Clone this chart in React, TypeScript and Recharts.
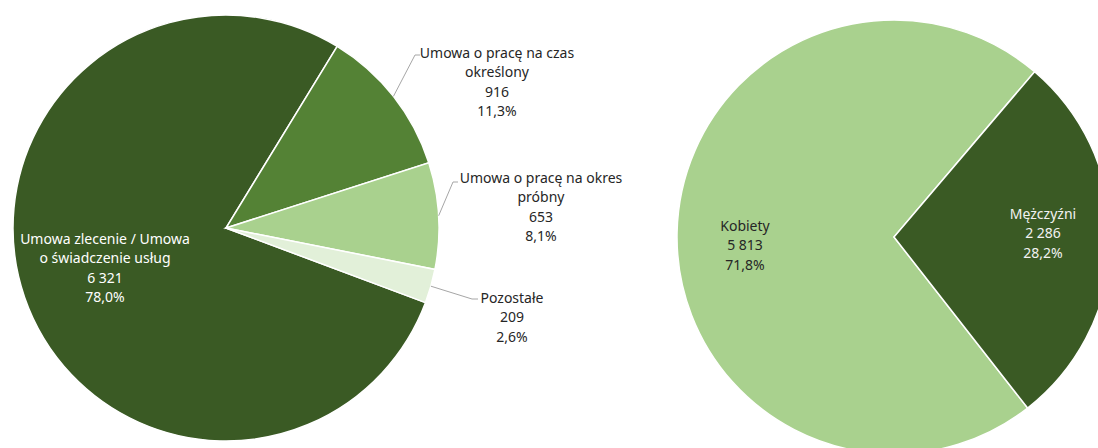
import { PieChart, Pie, Cell } from "recharts";

const CONTRACT_NAMES = [
  "Umowa zlecenie / Umowa\no świadczenie usług",
  "Umowa o pracę na czas\nokreślony",
  "Umowa o pracę na okres\npróbny",
  "Pozostałe",
];
const CONTRACT_VALUES = [6321, 916, 653, 209];
const CONTRACT_COLORS = ["#3a5a24", "#548235", "#a9d18e", "#e2f0d9"];

const GENDER_NAMES = ["Kobiety", "Mężczyźni"];
const GENDER_VALUES = [5813, 2286];
const GENDER_COLORS = ["#a9d18e", "#3a5a24"];

const FONT = "'Noto Sans', sans-serif";
const LINE_H = 19.5;

// label placement relative to pie centre (px); line = leader elbow + end
type LabelPos = { tx: number; ty: number; color: string; line?: [number, number, number, number] };

const CONTRACT_LABELS: LabelPos[] = [
  { tx: -121, ty: 10, color: "#ffffff" },
  { tx: 271, ty: -176, color: "#262626", line: [189, -173, 194, -173] },
  { tx: 315, ty: -51, color: "#262626", line: [227, -46, 232, -46] },
  { tx: 286, ty: 69, color: "#262626", line: [246, 71, 252, 71] },
];

const GENDER_LABELS: LabelPos[] = [
  { tx: -149, ty: -12, color: "#262626" },
  { tx: 149, ty: -24, color: "#f2f2f2" },
];

const fmtNum = (v: number) => String(v).replace(/\B(?=(\d{3})+(?!\d))/g, " ");
const fmtPct = (v: number, total: number) => ((v / total) * 100).toFixed(1).replace(".", ",") + "%";

const build = (names: string[], values: number[]) =>
  names.map((name, i) => ({ name, value: values[i] }));

function makeLabel(layout: LabelPos[], total: number) {
  return (props: any) => {
    const { cx, cy, midAngle, outerRadius, index, name, value } = props;
    const pos = layout[index];
    const lines = [...String(name).split("\n"), fmtNum(value), fmtPct(value, total)];
    const rad = (-midAngle * Math.PI) / 180;
    const sx = cx + outerRadius * Math.cos(rad);
    const sy = cy + outerRadius * Math.sin(rad);
    return (
      <g key={`lbl-${index}`}>
        {pos.line && (
          <polyline
            points={`${sx},${sy} ${cx + pos.line[0]},${cy + pos.line[1]} ${cx + pos.line[2]},${cy + pos.line[3]}`}
            fill="none"
            stroke="#a6a6a6"
            strokeWidth={1}
          />
        )}
        {lines.map((t, i) => (
          <text
            key={i}
            x={cx + pos.tx}
            y={cy + pos.ty + i * LINE_H}
            textAnchor="middle"
            dominantBaseline="central"
            fill={pos.color}
            fontFamily={FONT}
            fontSize={14}
          >
            {t}
          </text>
        ))}
      </g>
    );
  };
}

export default function App() {
  const contracts = build(CONTRACT_NAMES, CONTRACT_VALUES);
  const genders = build(GENDER_NAMES, GENDER_VALUES);
  const contractTotal = CONTRACT_VALUES.reduce((a, b) => a + b, 0);
  const genderTotal = GENDER_VALUES.reduce((a, b) => a + b, 0);

  return (
    <div style={{ position: "absolute", left: 0, top: 0, width: 1098, height: 448, background: "#fff" }}>
      <PieChart width={1098} height={448} margin={{ top: 0, right: 0, bottom: 0, left: 0 }}>
        <Pie
          data={contracts}
          dataKey="value"
          nameKey="name"
          cx={226}
          cy={228}
          outerRadius={213}
          startAngle={-20.5}
          endAngle={-380.5}
          stroke="#ffffff"
          strokeWidth={1.5}
          labelLine={false}
          label={makeLabel(CONTRACT_LABELS, contractTotal)}
          isAnimationActive={false}
        >
          {contracts.map((_, i) => (
            <Cell key={i} fill={CONTRACT_COLORS[i]} />
          ))}
        </Pie>
        <Pie
          data={genders}
          dataKey="value"
          nameKey="name"
          cx={894}
          cy={237}
          outerRadius={217}
          startAngle={-52}
          endAngle={-412}
          stroke="#ffffff"
          strokeWidth={1.5}
          labelLine={false}
          label={makeLabel(GENDER_LABELS, genderTotal)}
          isAnimationActive={false}
        >
          {genders.map((_, i) => (
            <Cell key={i} fill={GENDER_COLORS[i]} />
          ))}
        </Pie>
      </PieChart>
    </div>
  );
}
